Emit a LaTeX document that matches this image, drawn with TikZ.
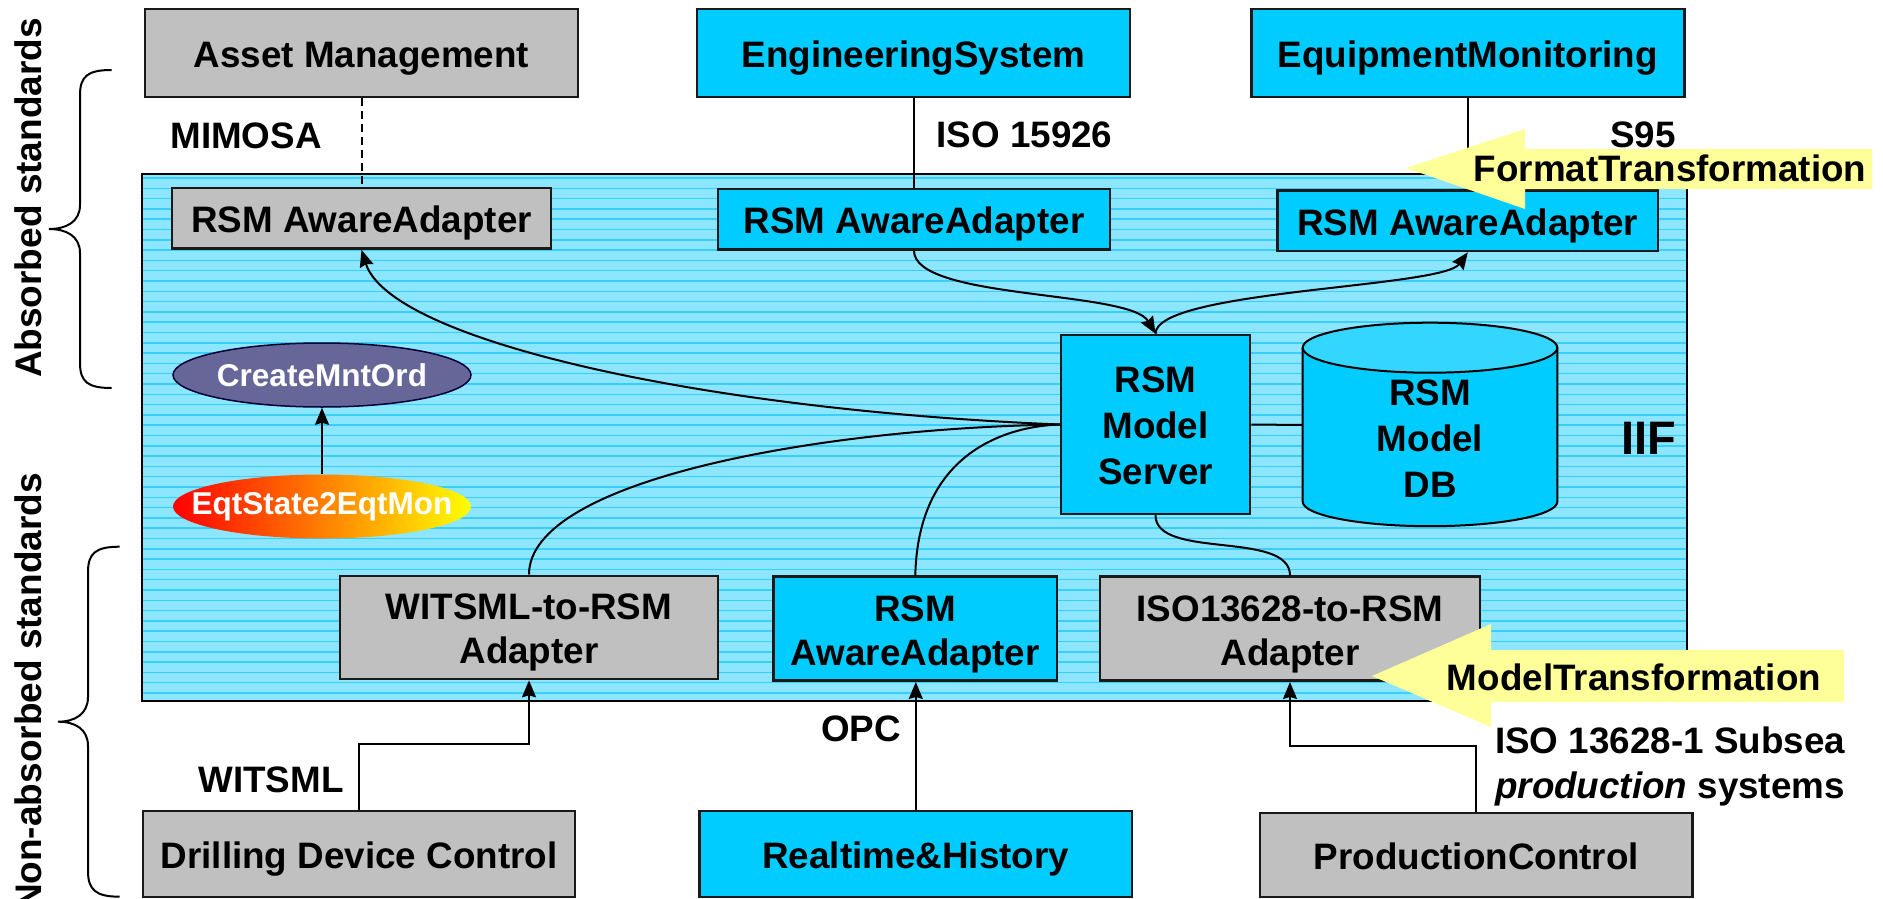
\documentclass[tikz,border=0pt]{standalone}
\usepackage{fontspec}
\setmainfont{Liberation Sans}
\usetikzlibrary{arrows.meta,shapes.geometric}

\definecolor{boxcyan}{HTML}{00CCFF}
\definecolor{boxgray}{HTML}{C0C0C0}
\definecolor{iifbase}{HTML}{8CE6FF}
\definecolor{iifstripe}{HTML}{3ACFFA}
\definecolor{dbtop}{HTML}{33D6FF}
\definecolor{mntpurple}{HTML}{666699}
\definecolor{hiyellow}{HTML}{FFFF99}
\definecolor{midorange}{RGB}{255,165,0}

% struts that fix the vertical extent of multi-line box texts
\newcommand\upstrutx{\rule{0pt}{39pt}}
\newcommand\upstrutxx{\rule{0pt}{37.4pt}}
\newcommand\dnstrutx{\rule[-10pt]{0pt}{10pt}}

\begin{document}
\begin{tikzpicture}[x=1pt,y=-1pt,
  txt/.style={font=\fontsize{36.8}{44}\selectfont\bfseries, inner sep=0pt, align=center},
  oneline/.style={text height=30pt, text depth=1.2pt},
  boxline/.style={draw=black!90, line width=2.5pt},
  graybox/.style={txt, boxline, fill=boxgray},
  cyanbox/.style={txt, boxline, fill=boxcyan},
  wide/.style={minimum width=433pt, minimum height=88pt},
  adapt/.style={minimum height=60.5pt},
  lbl/.style={font=\fontsize{36.8}{44}\selectfont\bfseries, inner sep=0pt},
  side/.style={font=\fontsize{37}{40}\selectfont\bfseries, inner sep=0pt, rotate=90},
  oval/.style={ellipse, minimum width=298pt, minimum height=64pt,
    inner xsep=-30pt, inner ysep=-12pt,
    text=white, font=\fontsize{31.5}{36}\selectfont\bfseries},
  conn/.style={line width=2pt, black},
  arr/.style={conn, -{Stealth[length=17pt,width=14pt,inset=2pt]}},
  brace/.style={line width=2pt, black},
  banner/.style={fill=hiyellow, draw=none},
]
\useasboundingbox (0,0) rectangle (1883,899);

% external systems, top row
\node[graybox, wide, oneline] (am) at (361.5,53) {Asset Management};
\node[cyanbox, wide, oneline] (es) at (913.5,53) {EngineeringSystem};
\node[cyanbox, wide, oneline] (em) at (1467.8,53) {EquipmentMonitoring};

% standards on the upper links
\node[lbl] (mimosa) at (246,136) {MIMOSA};
\node[lbl] (iso15926) at (1024.5,134.5) {ISO 15926};
\node[lbl] (s95) at (1643,135) {S95};

% integration framework area with striped fill
\node[draw=black, line width=2pt, fill=iifbase, minimum width=1545pt, minimum height=527pt,
  inner sep=0pt,
  path picture={
    \foreach \k in {0,...,51}
      \draw[iifstripe, line width=1.5pt]
        ([yshift={-4pt-\k*10.3pt}]path picture bounding box.north west) --
        ([yshift={-4pt-\k*10.3pt}]path picture bounding box.north east);
  }] (iif) at (914.5,437.5) {};
\node[font=\fontsize{47}{50}\selectfont\bfseries, inner sep=0pt] (iiflabel) at (1649,438) {IIF};

% aware adapters of the absorbed standards
\node[graybox, adapt, oneline, minimum width=379pt] (raa1) at (361.5,218.3) {RSM AwareAdapter};
\node[cyanbox, adapt, oneline, minimum width=391.6pt] (raa2) at (914,219) {RSM AwareAdapter};
\node[cyanbox, adapt, oneline, minimum width=380.5pt] (raa3) at (1467.8,220.8) {RSM AwareAdapter};

% model server
\node[cyanbox, font=\fontsize{36.8}{46}\selectfont\bfseries, minimum width=189pt, minimum height=179pt]
  (srv) at (1155.5,424.5) {\upstrutxx RSM\\Model\\Server\dnstrutx};

% model database cylinder
\fill[boxcyan] (1302.7,347.7) -- (1302.7,501.7)
  arc[start angle=180, end angle=360, x radius=127.3pt, y radius=24.5pt]
  -- (1557.3,347.7) -- cycle;
\draw[line width=2pt] (1302.7,347.7) -- (1302.7,501.7)
  arc[start angle=180, end angle=360, x radius=127.3pt, y radius=24.5pt]
  -- (1557.3,347.7);
\draw[line width=2pt, fill=dbtop] (1430,347.7) ellipse [x radius=127.3pt, y radius=25pt];
\node[txt, font=\fontsize{36.8}{46}\selectfont\bfseries] (db) at (1430,438) {\upstrutxx RSM\\Model\\DB\dnstrutx};
\coordinate (dbw) at (1302.7,425);

% transformation services
\node[oval, draw=black!80!blue, line width=1.5pt, fill=mntpurple] (cmo) at (322,375) {CreateMntOrd};
\node[oval, left color=red, middle color=midorange, right color=yellow] (eqt) at (322,506.5) {EqtState2EqtMon};

% adapters of the non-absorbed standards
\node[graybox, minimum width=378pt, minimum height=103.3pt] (wit) at (529,627.4) {\upstrutx WITSML-to-RSM\\Adapter\dnstrutx};
\node[cyanbox, minimum width=283.5pt, minimum height=104pt] (raa4) at (915.3,628.7) {\upstrutx RSM\\AwareAdapter\dnstrutx};
\node[graybox, minimum width=380pt, minimum height=104pt] (iso) at (1290,628.7) {\upstrutx ISO13628-to-RSM\\Adapter\dnstrutx};

% external systems, bottom row
\node[graybox, oneline, minimum width=432pt, minimum height=86pt] (drill) at (359,854) {Drilling Device Control};
\node[cyanbox, oneline, minimum width=432.5pt, minimum height=86pt] (rth) at (915.8,854) {Realtime\&History};
\node[graybox, oneline, minimum width=432.7pt, minimum height=84pt] (pc) at (1476.3,855) {ProductionControl};

% standards on the lower links
\node[lbl] (witsml) at (271,780) {WITSML};
\node[lbl] (opc) at (861,729) {OPC};
\node[lbl, anchor=base west] (isoa) at (1495,753) {ISO 13628-1 Subsea};
\node[lbl, anchor=base west] (isob) at (1495,798.3) {\textit{production} systems};

% links to the external systems
\draw[conn, dash pattern=on 8pt off 5pt] (am.south) -- (raa1.north);
\draw[conn] (es.south) -- (es.south |- raa2.north);
\draw[conn] (em.south) -- (raa3.north);
\draw[arr] (drill.north) -- ++(0,-66) -| (wit.south);
\draw[arr] (rth.north) -- (rth.north |- raa4.south);
\draw[arr] (pc.north) -- ++(0,-66) -| (iso.south);

% links inside the framework
\draw[arr] (raa2.south) .. controls (913.5,300) and (1130,290) .. (srv.north);
\draw[arr] (srv.north) .. controls (1155.5,290) and (1442,288) .. (raa3.south);
\draw[arr] (srv.west) .. controls (700,410) and (390,340) .. (raa1.south);
\draw[conn] (srv.west) .. controls (820,428) and (529,480) .. (wit.north);
\draw[conn] (srv.west) .. controls (1010,426) and (918,450) .. (raa4.north);
\draw[conn] (srv.south) .. controls (1155.5,560) and (1290,530) .. (iso.north);
\draw[conn] (srv.east) -- (dbw);
\draw[arr] (eqt.north) -- (cmo.south);

% transformation banners
\fill[banner] (1406,168) -- (1525,129) -- (1525,149) -- (1872,149) -- (1872,189)
  -- (1525,189) -- (1525,209) -- cycle;
\node[lbl] (fmt) at (1670,168) {FormatTransformation};
\fill[banner] (1372,676) -- (1491,624) -- (1491,650) -- (1844,650) -- (1844,702)
  -- (1491,702) -- (1491,727) -- cycle;
\node[lbl] (mdl) at (1634,677) {ModelTransformation};

% side braces and captions
\draw[brace] (111.6,70) .. controls (88,70) and (80,76) .. (80,95) -- (80,205)
  .. controls (80,222) and (66,229) .. (49,229)
  .. controls (66,229) and (80,236) .. (80,253) -- (80,363)
  .. controls (80,382) and (88,388) .. (111.6,388);
\draw[brace] (119.6,546.7) .. controls (96,546.7) and (88,553) .. (88,572) -- (88,697)
  .. controls (88,714) and (75,721.7) .. (58,721.7)
  .. controls (75,721.7) and (88,729) .. (88,746) -- (88,871)
  .. controls (88,890) and (96,896.7) .. (119.6,896.7);
\node[side] (absorbed) at (28,198) {Absorbed standards};
\node[side] (nonabsorbed) at (28,692) {Non-absorbed standards};
\end{tikzpicture}
\end{document}
